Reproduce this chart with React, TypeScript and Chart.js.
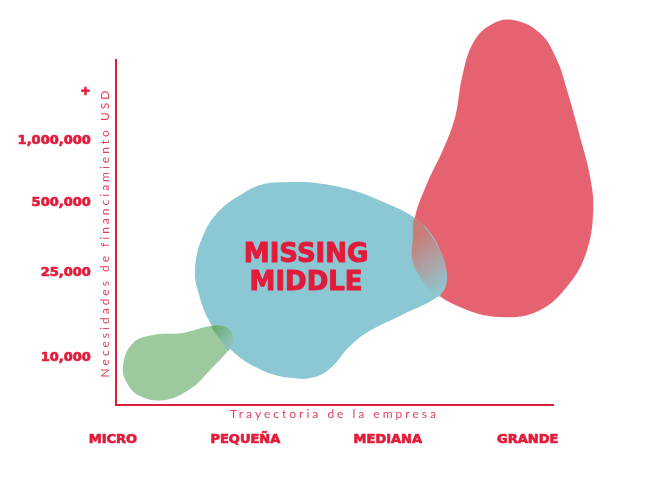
import { useEffect, useRef } from "react";
import { Chart, registerables } from "chart.js";

Chart.register(...registerables);

type P = { x: number; y: number };

// ---- Data ----
const stageLabels = ["MICRO", "PEQUEÑA", "MEDIANA", "GRANDE"];
const stagePositions = [-0.7, 29.6, 62.2, 94.2];

const fundingLabels = ["10,000", "25,000", "500,000", "1,000,000", "+"];
const fundingLevels = [13.6, 38.5, 58.8, 76.5, 90.7];

const xTitle = "Trayectoria de la empresa";
const yTitle = "Necesidades de financiamiento USD";

const centerLabel = ["MISSING", "MIDDLE"];
const centerLabelAt = { x: 43.5, y: 39.4 };

// blob outlines (x: trayectoria 0-100, y: nivel de financiamiento 0-100)
const microBlob: P[] = [
  { x: 1.6, y: 11.6 }, { x: 3.9, y: 18.0 }, { x: 8.5, y: 20.3 }, { x: 15.3, y: 20.9 },
  { x: 21.5, y: 22.9 }, { x: 24.5, y: 22.8 }, { x: 26.5, y: 20.9 }, { x: 26.8, y: 18.6 },
  { x: 25.6, y: 15.7 }, { x: 21.5, y: 10.1 }, { x: 16.9, y: 4.6 }, { x: 10.8, y: 1.4 },
  { x: 5.5, y: 2.6 }, { x: 2.5, y: 6.4 },
];

const middleBlob: P[] = [
  { x: 39.4, y: 64.6 }, { x: 46.2, y: 64.3 }, { x: 54.0, y: 62.3 }, { x: 61.6, y: 58.6 },
  { x: 68.4, y: 54.2 }, { x: 72.3, y: 49.3 }, { x: 74.8, y: 42.6 }, { x: 75.7, y: 36.2 },
  { x: 74.1, y: 31.9 }, { x: 65.4, y: 26.1 }, { x: 57.7, y: 21.2 }, { x: 53.1, y: 16.5 },
  { x: 49.4, y: 11.0 }, { x: 45.5, y: 8.1 }, { x: 40.3, y: 7.8 }, { x: 33.4, y: 10.1 },
  { x: 26.8, y: 15.4 }, { x: 21.7, y: 23.5 }, { x: 18.8, y: 32.8 }, { x: 18.1, y: 39.7 },
  { x: 19.7, y: 48.4 }, { x: 23.3, y: 55.9 }, { x: 29.5, y: 61.7 }, { x: 34.1, y: 64.1 },
];

const grandeBlob: P[] = [
  { x: 90.8, y: 111.6 }, { x: 97.0, y: 107.8 }, { x: 100.9, y: 100.0 }, { x: 103.2, y: 91.3 },
  { x: 106.2, y: 77.7 }, { x: 108.5, y: 66.1 }, { x: 109.2, y: 56.5 }, { x: 107.8, y: 44.9 },
  { x: 103.9, y: 35.4 }, { x: 97.0, y: 27.5 }, { x: 87.9, y: 25.5 }, { x: 78.7, y: 28.4 },
  { x: 71.9, y: 34.2 }, { x: 67.5, y: 44.9 }, { x: 68.4, y: 54.5 }, { x: 71.2, y: 64.3 },
  { x: 74.8, y: 73.9 }, { x: 77.6, y: 83.5 }, { x: 79.2, y: 95.1 }, { x: 81.7, y: 104.9 },
  { x: 85.6, y: 110.1 },
];

const middleGrandeOverlap: P[] = [
  { x: 68.4, y: 54.2 }, { x: 71.2, y: 50.7 }, { x: 73.7, y: 45.8 }, { x: 75.3, y: 41.2 },
  { x: 75.3, y: 36.2 }, { x: 74.6, y: 32.8 }, { x: 73.7, y: 31.3 }, { x: 71.9, y: 33.3 },
  { x: 69.6, y: 37.1 }, { x: 67.8, y: 42.0 }, { x: 67.9, y: 47.8 },
];

const microMiddleOverlap: P[] = [
  { x: 22.0, y: 22.8 }, { x: 24.3, y: 22.9 }, { x: 26.1, y: 21.7 }, { x: 26.8, y: 19.4 },
  { x: 26.3, y: 16.8 }, { x: 25.6, y: 15.7 }, { x: 24.3, y: 18.3 }, { x: 22.7, y: 20.9 },
];

// ---- Styles ----
const RED_TEXT = "#E31B3A";
const AXIS_RED = "#DC1F3C";
const TITLE_RED = "#E3405A";
const GREEN = "#9DC99F";
const TEAL = "#8BC8D3";
const CORAL = "#E56370";

const closeLoop = (pts: P[]) => [pts[pts.length - 1], ...pts, pts[0], pts[1]];

const gradientFill = (from: P, to: P, c0: string, c1: string, fallback: string) => (c: any) => {
  const ch = c.chart;
  if (!ch.chartArea || !ch.scales.x) return fallback;
  const xs = ch.scales.x, ys = ch.scales.y;
  const g = ch.ctx.createLinearGradient(
    xs.getPixelForValue(from.x), ys.getPixelForValue(from.y),
    xs.getPixelForValue(to.x), ys.getPixelForValue(to.y)
  );
  g.addColorStop(0, c0);
  g.addColorStop(1, c1);
  return g;
};

const letterSpacingPlugin = {
  id: "titleSpacing",
  beforeDraw(chart: any) {
    ["x", "y"].forEach((id) => {
      const s = chart.scales[id];
      if (s && !s._lsPatched) {
        const orig = s.drawTitle;
        s.drawTitle = function (...args: any[]) {
          const c = this.ctx;
          c.save();
          c.letterSpacing = "3px";
          orig.apply(this, args);
          c.restore();
        };
        s._lsPatched = true;
      }
    });
  },
};

// lets the blobs' fills overflow the plot area (like the original illustration)
const overflowPlugin = {
  id: "overflowFill",
  beforeDatasetsDraw(chart: any) {
    chart._savedArea = chart.chartArea;
    chart.chartArea = {
      left: 0, top: 0, right: chart.width, bottom: chart.height,
      width: chart.width, height: chart.height,
    };
  },
  afterDatasetsDraw(chart: any) {
    if (chart._savedArea) chart.chartArea = chart._savedArea;
    chart._savedArea = null;
    const { ctx, scales } = chart;
    const x = scales.x.getPixelForValue(centerLabelAt.x);
    const y = scales.y.getPixelForValue(centerLabelAt.y);
    ctx.save();
    ctx.font = 'bold 26px "DejaVu Sans"';
    ctx.fillStyle = RED_TEXT;
    ctx.strokeStyle = RED_TEXT;
    ctx.lineWidth = 1;
    ctx.lineJoin = "round";
    ctx.textAlign = "center";
    ctx.textBaseline = "middle";
    const lh = 27.5;
    centerLabel.forEach((t, i) => {
      const ty = y + (i - (centerLabel.length - 1) / 2) * lh;
      ctx.strokeText(t, x, ty);
      ctx.fillText(t, x, ty);
    });
    ctx.restore();
  },
};

const blob = (label: string, pts: P[], color: any) => ({
  label,
  data: closeLoop(pts),
  backgroundColor: color,
  borderWidth: 0,
  pointRadius: 0,
  pointHoverRadius: 0,
  fill: "shape",
  tension: 0.4,
  cubicInterpolationMode: "default",
  xAxisID: "x",
  yAxisID: "y",
  clip: false,
});

export default function App() {
  const ref = useRef<HTMLCanvasElement | null>(null);

  useEffect(() => {
    if (!ref.current) return;
    const tickFont = { family: "DejaVu Sans", size: 13, weight: "bold" as const };
    const titleFont = { family: "Lato", size: 12, weight: "normal" as any };
    const chart = new Chart(ref.current, {
      type: "line",
      data: {
        datasets: [
          blob("overlap-micro", microMiddleOverlap,
            gradientFill({ x: 22.0, y: 21.5 }, { x: 26.8, y: 17.0 }, "#6AAE6F", "#94C6C8", "#7FB98F")),
          blob("overlap-grande", middleGrandeOverlap,
            gradientFill({ x: 67.6, y: 47.8 }, { x: 75.3, y: 33.3 }, "#C97D7A", "#8EC7D1", "#A9A3A5")),
          blob("Micro", microBlob, GREEN),
          blob("Missing middle", middleBlob, TEAL),
          blob("Grande", grandeBlob, CORAL),
        ] as any,
      },
      options: {
        responsive: false,
        animation: false,
        events: [],
        layout: { padding: { left: 16, right: 119, top: 60, bottom: 40.2 } },
        elements: { line: { capBezierPoints: false } },
        plugins: { legend: { display: false }, tooltip: { enabled: false } },
        scales: {
          x: {
            type: "linear", min: 0, max: 100, position: "bottom",
            grid: { display: false, drawTicks: false },
            ticks: { display: false },
            border: { display: true, color: AXIS_RED, width: 2 },
            title: { display: true, text: xTitle, color: TITLE_RED, font: titleFont, padding: { top: 3, bottom: 0 } },
            afterFit: (s: any) => { s.height = 16.2; },
          },
          x2: {
            type: "linear", min: 0, max: 100, position: "bottom",
            grid: { display: false, drawTicks: false },
            border: { display: false },
            afterBuildTicks: (s: any) => { s.ticks = stagePositions.map((v) => ({ value: v })); },
            ticks: {
              autoSkip: false, maxRotation: 0, padding: 11, color: RED_TEXT, font: tickFont,
              textStrokeColor: RED_TEXT, textStrokeWidth: 0.7,
              callback: (_v: any, i: number) => stageLabels[i],
            },
            afterFit: (s: any) => { s.height = 26.6; },
          },
          y: {
            type: "linear", min: 0, max: 100, position: "left",
            grid: { display: false, drawTicks: false },
            ticks: { display: false },
            border: { display: true, color: AXIS_RED, width: 2 },
            title: { display: true, text: yTitle, color: TITLE_RED, font: titleFont, padding: { top: 3, bottom: 5 } },
            afterFit: (s: any) => { s.width = 21.2; },
          },
          y2: {
            type: "linear", min: 0, max: 100, position: "left",
            grid: { display: false, drawTicks: false },
            border: { display: false },
            afterBuildTicks: (s: any) => { s.ticks = fundingLevels.map((v) => ({ value: v })); },
            ticks: {
              autoSkip: false, padding: 4, color: RED_TEXT, font: tickFont,
              textStrokeColor: RED_TEXT, textStrokeWidth: 0.7,
              callback: (_v: any, i: number) => fundingLabels[i],
            },
            afterFit: (s: any) => { s.width = 78.8; },
          },
        } as any,
      },
      plugins: [letterSpacingPlugin, overflowPlugin],
    });
    return () => chart.destroy();
  }, []);

  return (
    <div style={{ position: "absolute", left: 0, top: 0, width: 672, height: 488, background: "#fff" }}>
      <canvas ref={ref} width={672} height={488} style={{ width: 672, height: 488, display: "block" }} />
    </div>
  );
}
